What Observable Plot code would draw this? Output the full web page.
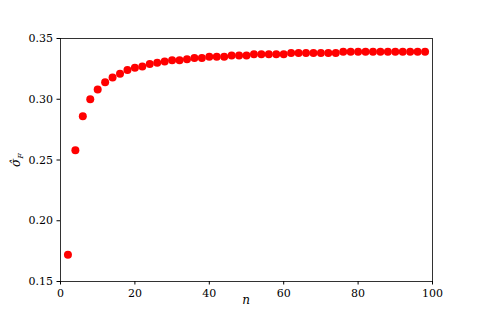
<!DOCTYPE html>
<html><head><meta charset="utf-8">
<script src="https://cdn.jsdelivr.net/npm/d3@7"></script>
<script src="https://cdn.jsdelivr.net/npm/@observablehq/plot@0.6"></script>
<style>body{margin:0;background:#fff}</style>
</head><body><div id="chart"></div>
<script>
const nValues = [2,4,6,8,10,12,14,16,18,20,22,24,26,28,30,32,34,36,38,40,42,44,46,48,50,52,54,56,58,60,62,64,66,68,70,72,74,76,78,80,82,84,86,88,90,92,94,96,98];
const sigmaValues = [0.172,0.258,0.286,0.300,0.308,0.314,0.318,0.321,0.324,0.326,0.327,0.329,0.330,0.331,0.332,0.332,0.333,0.334,0.334,0.335,0.335,0.335,0.336,0.336,0.336,0.337,0.337,0.337,0.337,0.337,0.338,0.338,0.338,0.338,0.338,0.338,0.338,0.339,0.339,0.339,0.339,0.339,0.339,0.339,0.339,0.339,0.339,0.339,0.339];
const xTicks = [0,20,40,60,80,100];
const yTicks = [0.15,0.20,0.25,0.30,0.35];

const data = nValues.map((n,i)=>({n, s: sigmaValues[i]}));

const plot = Plot.plot({
  width: 480, height: 320,
  marginLeft: 60, marginRight: 48, marginTop: 38, marginBottom: 39,
  style: {fontFamily: "'DejaVu Serif', serif", fontSize: "11px", color: "black", background: "white"},
  x: {domain: [0,100], label: null},
  y: {domain: [0.15,0.35], label: null},
  marks: [
    Plot.frame({stroke: "black", strokeWidth: 0.8}),
    Plot.axisX({ticks: xTicks, tickSize: 3.5, tickPadding: 4, tickFormat: d=>String(d), fontSize: 11}),
    Plot.axisY({ticks: yTicks, tickSize: 3.5, tickPadding: 4, tickFormat: d3.format(".2f"), fontSize: 11}),
    Plot.dot(data, {x: "n", y: "s", r: 4, fill: "#ff0000", stroke: "none"})
  ]
});
const svg = d3.select(plot);
// x label
svg.append("text").attr("x", 246).attr("y", 304).attr("text-anchor","middle")
  .attr("font-family","'DejaVu Serif', serif").attr("font-style","italic").attr("font-size",12).text("n");
// y label
const yl = svg.append("text").attr("transform","translate(20,160) rotate(-90)").attr("text-anchor","middle")
  .attr("font-family","'DejaVu Serif', serif").attr("font-style","italic").attr("font-size",12);
yl.append("tspan").text("σ\u0302");
yl.append("tspan").attr("font-size",8).attr("dy",3).text("F");
document.getElementById("chart").appendChild(plot);
</script></body></html>
